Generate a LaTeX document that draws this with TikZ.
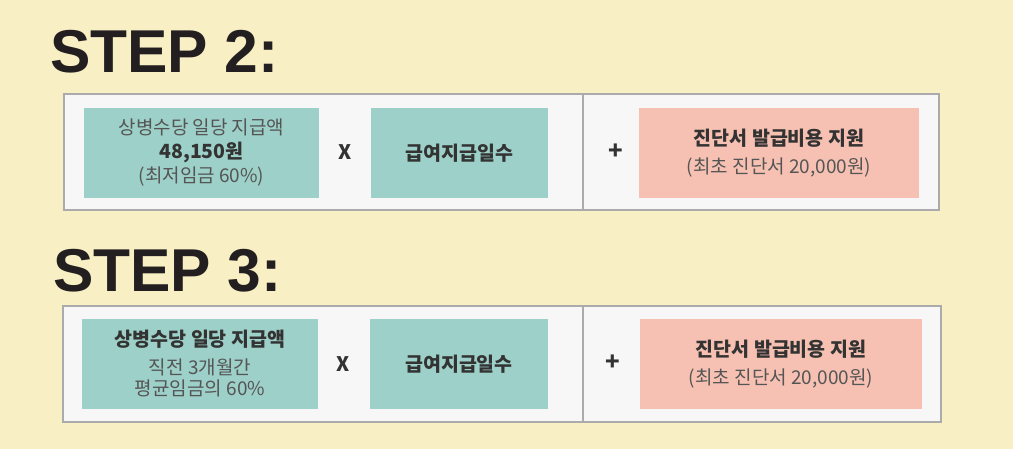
\documentclass[tikz,border=0pt]{standalone}
\usepackage{fontspec}
\setmainfont{Liberation Sans}
\newfontfamily\kr{Noto Sans CJK KR}
\definecolor{bgyel}{HTML}{F8EFC4}
\definecolor{panelfill}{HTML}{F7F7F7}
\definecolor{panelline}{HTML}{ABABAB}
\definecolor{teal}{HTML}{9DD0C8}
\definecolor{pink}{HTML}{F6C1B2}
\definecolor{titlecol}{HTML}{231F20}
\definecolor{boldtxt}{HTML}{333333}
\definecolor{regtxt}{HTML}{555555}
\tikzset{
  panel/.style={draw=panelline, line width=1.8pt, fill=panelfill},
  boxtext/.style={inner sep=0pt, minimum height=90pt, align=center, font=\kr\fontsize{19}{25}\selectfont},
  tealbox/.style={boxtext, fill=teal},
  pinkbox/.style={boxtext, fill=pink},
  steptitle/.style={anchor=base west, inner sep=0pt, text=titlecol, font=\fontsize{60.5}{62}\selectfont\bfseries},
  opsign/.style={inner sep=0pt, text=boldtxt},
  plussign/.style={opsign, font=\kr\fontsize{24}{24}\selectfont\bfseries},
  timessign/.style={opsign, font=\kr\fontsize{20}{20}\selectfont\bfseries},
}
\newcommand{\regline}[1]{{\kr\color{regtxt}\fontsize{19}{25}\selectfont #1}}
\newcommand{\boldline}[1]{{\kr\color{boldtxt}\fontsize{19.5}{25}\selectfont\bfseries #1}}
\begin{document}
\begin{tikzpicture}[x=1pt,y=-1pt]
\useasboundingbox (0,0) rectangle (1013,449);
\fill[bgyel] (0,0) rectangle (1013,449);

% titles
\node[steptitle] (t2) at (50,73) {STEP 2:};
\node[steptitle] (t3) at (53,292) {STEP 3:};

% panel 1
\draw[panel] (64,94) rectangle (939,210);
\coordinate (d1top) at (583,94);
\coordinate (d1bot) at (583,210);
\draw[panelline, line width=1.8pt] (d1top) -- (d1bot);

\node[tealbox, minimum width=235pt] (a1) at (201.5,153) {%
  \regline{상병수당 일당 지급액}\\[-1pt]
  \boldline{48,150원}\\[-1pt]
  \regline{(최저임금 60\%)}};
\node[timessign] (x1) at (345,152) {X};
\node[tealbox, minimum width=177pt] (b1) at (459.5,153) {\boldline{급여지급일수}};
\node[plussign] (p1) at (616,152) {+};
\node[pinkbox, minimum width=280pt] (c1) at (779,153) {%
  \boldline{진단서 발급비용 지원}\\[3pt]
  \regline{(최초 진단서 20,000원)}};

% panel 2
\draw[panel] (63,306) rectangle (941,422);
\coordinate (d2top) at (583,306);
\coordinate (d2bot) at (583,422);
\draw[panelline, line width=1.8pt] (d2top) -- (d2bot);

\node[tealbox, minimum width=236pt] (a2) at (200,364) {%
  \boldline{상병수당 일당 지급액}\\[3pt]
  \regline{직전 3개월간}\\[-4pt]
  \regline{평균임금의 60\%}};
\node[timessign] (x2) at (343,364) {X};
\node[tealbox, minimum width=178pt] (b2) at (459,364) {\boldline{급여지급일수}};
\node[plussign] (p2) at (613,363) {+};
\node[pinkbox, minimum width=282pt] (c2) at (781,364) {%
  \boldline{진단서 발급비용 지원}\\[3pt]
  \regline{(최초 진단서 20,000원)}};
\end{tikzpicture}
\end{document}
